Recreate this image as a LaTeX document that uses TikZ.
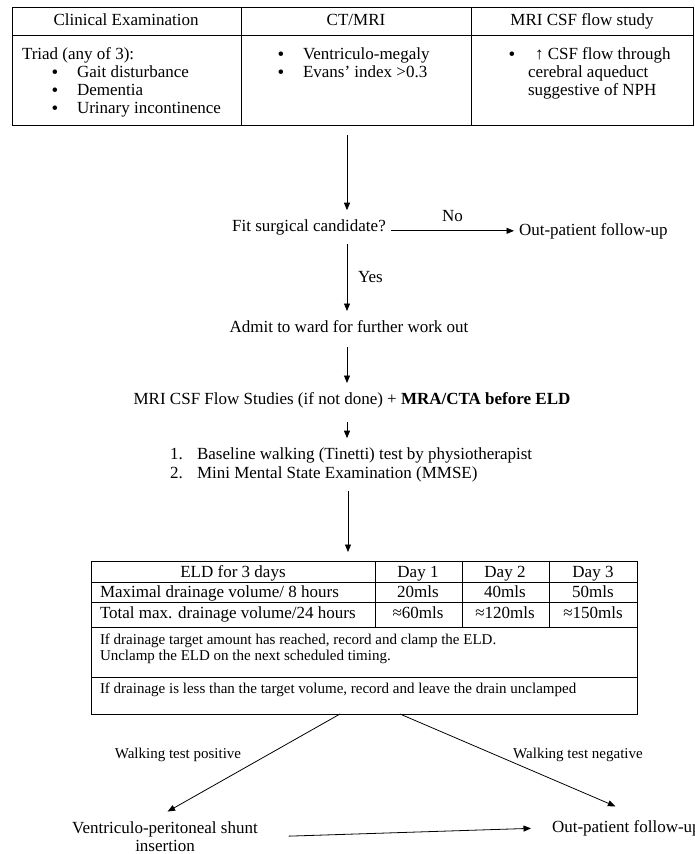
\documentclass[tikz,border=0pt]{standalone}
\usepackage{fontspec}
\setmainfont{Liberation Serif}
\usetikzlibrary{arrows.meta}
\tikzset{
  txt/.style={font=\fontsize{17}{18}\selectfont, inner xsep=5pt, inner ysep=9pt, outer sep=0pt},
  smalltxt/.style={txt, font=\fontsize{15}{16}\selectfont},
  bullet/.style={font=\fontsize{19}{18}\selectfont, inner sep=0pt, outer sep=0pt},
  flow/.style={draw, line width=0.8pt, -{Triangle[length=7.5pt,width=6pt]}},
  tabline/.style={line width=0.9pt}
}
\begin{document}
\begin{tikzpicture}[x=1pt,y=-1pt]
  \useasboundingbox (0,0) rectangle (694,854);
  \draw [tabline] (12,7) rectangle (693,125);
  \draw [tabline] (12,35) -- (693,35);
  \draw [tabline] (241,7) -- (241,125);
  \draw [tabline] (471,7) -- (471,125);
  \node [txt, anchor=base] (hclin) at (126,25) {Clinical Examination};
  \node [txt, anchor=base] (hct) at (356,25) {CT/MRI};
  \node [txt, anchor=base] (hmri) at (582,25) {MRI CSF flow study};
  \node [txt, anchor=base west, inner xsep=0pt] (triad) at (22,59) {Triad (any of 3):};
  \foreach \t [count=\i] in {Gait disturbance, Dementia, Urinary incontinence}
  {
    \node [bullet, anchor=base] (clinb\i) at (55,60+18*\i) {•};
    \node [txt, anchor=base west, inner xsep=0pt] (clin\i) at (77,59+18*\i) {\t};
  }
  \foreach \t [count=\i] in {Ventriculo-megaly, Evans’ index >0.3}
  {
    \node [bullet, anchor=base] (ctb\i) at (281,42+18*\i) {•};
    \node [txt, anchor=base west, inner xsep=0pt] (ct\i) at (303,41+18*\i) {\t};
  }
  \node [bullet, anchor=base] (mrib) at (512,60) {•};
  \node [txt, anchor=base west, inner xsep=0pt] (mri1) at (535,59) {↑ CSF flow through};
  \node [txt, anchor=base west, inner xsep=0pt] (mri2) at (528,77) {cerebral aqueduct};
  \node [txt, anchor=base west, inner xsep=0pt] (mri3) at (528,95) {suggestive of NPH};

  \coordinate (tabbot) at (347,125);
  \node [txt, anchor=base] (fit) at (309,231) {Fit surgical candidate?};
  \node [txt, anchor=base west] (out1) at (514,235) {Out-patient follow-up};
  \node [txt, anchor=base] (admit) at (349,332) {Admit to ward for further work out};
  \node [txt, anchor=base] (mra) at (352,404) {MRI CSF Flow Studies (if not done) + \textbf{MRA/CTA before ELD}};
  \foreach \t [count=\i] in {Baseline walking (Tinetti) test by physiotherapist, Mini Mental State Examination (MMSE)}
  {
    \node [txt, anchor=base west, inner xsep=0pt] (num\i) at (170,440+19*\i) {\i.};
    \node [txt, anchor=base west, inner xsep=0pt] (test\i) at (197,440+19*\i) {\t};
  }
  \draw [flow, shorten <=10pt] (tabbot) -- (tabbot |- fit.north);
  \draw [flow] (fit.east |- out1) -- (out1.west) node [txt, midway, above] (no) {No};
  \draw [flow] (fit.south -| tabbot) -- (admit.north -| tabbot) node [txt, midway, right, xshift=6pt] (yes) {Yes};
  \draw [flow, shorten <=6pt] (admit.south -| tabbot) -- (mra.north -| tabbot);
  \draw [flow, shorten <=5pt] (mra.south -| tabbot) -- (test1.north -| tabbot);

  \coordinate (eldtop) at (348,561);
  \draw [flow, shorten >=9pt] (test2.south -| eldtop) -- (eldtop);
  \draw [tabline] (91,561) rectangle (637,714);
  \foreach \y in {582,602,627,677}
  {
    \draw [tabline] (91,\y) -- (637,\y);
  }
  \foreach \x in {375,462,549}
  {
    \draw [tabline] (\x,561) -- (\x,627);
  }
  \node [txt, anchor=base] (eldh) at (233,577) {ELD for 3 days};
  \node [txt, anchor=base west, inner xsep=0pt] (maxv) at (100,597) {Maximal drainage volume/ 8 hours};
  \node [txt, anchor=base west, inner xsep=0pt] (totv) at (100,618) {Total max. drainage volume/24 hours};
  \foreach \x/\d/\a/\b [count=\i] in {418/Day 1/20mls/≈60mls, 505/Day 2/40mls/≈120mls, 593/Day 3/50mls/≈150mls}
  {
    \node [txt, anchor=base] (day\i) at (\x,577) {\d};
    \node [txt, anchor=base] (max\i) at (\x,597) {\a};
    \node [txt, anchor=base] (tot\i) at (\x,618) {\b};
  }
  \node [smalltxt, anchor=base west, inner xsep=0pt] (clamp1) at (100,644) {If drainage target amount has reached, record and clamp the ELD.};
  \node [smalltxt, anchor=base west, inner xsep=0pt] (clamp2) at (100,660) {Unclamp the ELD on the next scheduled timing.};
  \node [smalltxt, anchor=base west, inner xsep=0pt] (less) at (100,693) {If drainage is less than the target volume, record and leave the drain unclamped};

  \coordinate (eldl) at (340,714);
  \coordinate (eldr) at (400,714);
  \node [txt, anchor=north, align=center] (vp) at (165,813) {Ventriculo-peritoneal shunt\\insertion};
  \node [txt, anchor=base west] (out2) at (547,832) {Out-patient follow-up};
  \node [smalltxt, anchor=base] (wpos) at (178,758) {Walking test positive};
  \node [smalltxt, anchor=base] (wneg) at (578,758) {Walking test negative};
  \draw [flow, shorten >=3pt] (eldl) -- (vp.north);
  \draw [flow, shorten >=12pt] (eldr) -- (out2.north);
  \draw [flow, shorten <=26pt, shorten >=16pt] (vp.east) -- (out2.west);
\end{tikzpicture}
\end{document}
